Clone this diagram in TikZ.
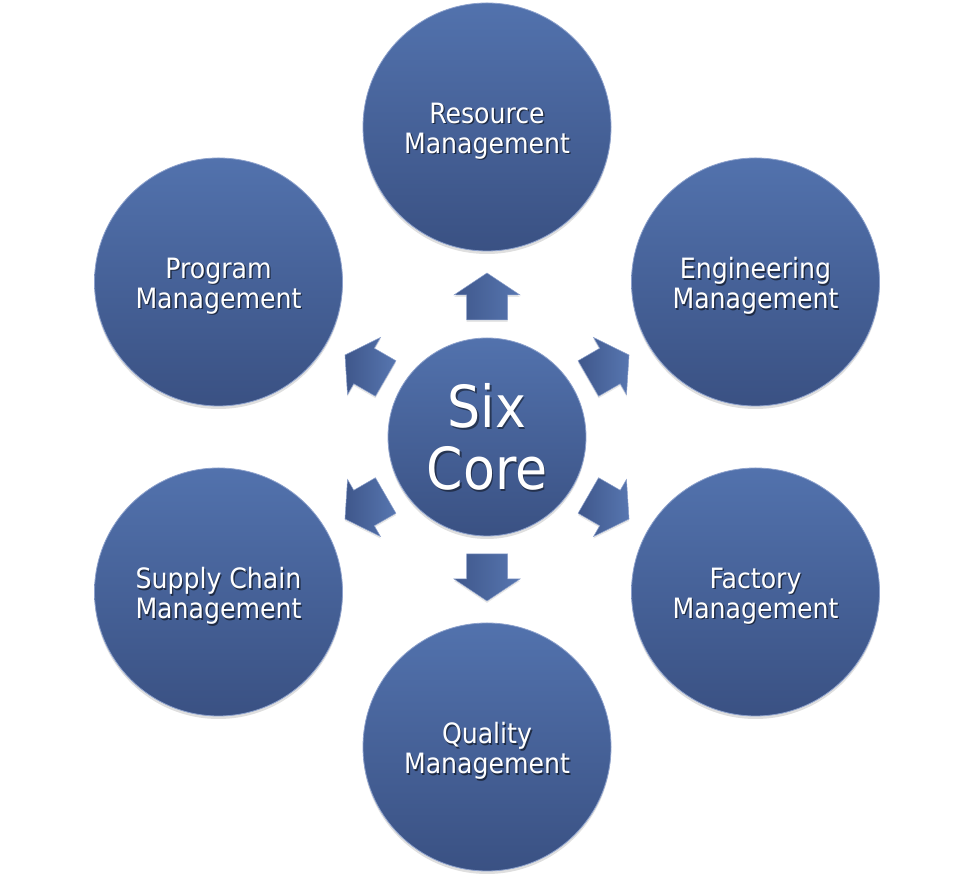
\documentclass[tikz,border=0pt]{standalone}
\usepackage{fontspec}
\setmainfont{DejaVu Sans Condensed}
\usetikzlibrary{shadows}
\definecolor{ctop}{HTML}{5272AD}
\definecolor{cbot}{HTML}{3A5183}
\definecolor{crim}{HTML}{8DA1CC}
\definecolor{atop}{HTML}{5776B0}
\definecolor{abot}{HTML}{3F578B}
\tikzset{
  bubble/.style={circle, inner sep=0pt, top color=ctop, bottom color=cbot,
    draw=crim, line width=0.8pt,
    drop shadow={opacity=0.25, shadow xshift=0pt, shadow yshift=-3pt}},
  outer/.style={bubble, minimum size=248pt},
  core/.style={bubble, minimum size=198pt},
  lbl/.style={align=center, text=white, yshift=-4pt, font=\fontsize{28}{30}\selectfont},
  lblsh/.style={lbl, text=black, opacity=0.55},
  big/.style={align=center, text=white, font=\fontsize{58}{62}\selectfont},
  bigsh/.style={big, text=black, opacity=0.45},
  blockarrow/.style={left color=abot, right color=atop, draw=crim, line width=0.5pt,
    drop shadow={opacity=0.2, shadow xshift=0pt, shadow yshift=-2pt}}
}
\newcommand{\shadowlabel}[4]{%
  \node[#1sh] (#2sh) at ([shift={(1.4pt,-1.4pt)}]#3) {#4};
  \node[#1] (#2) at (#3) {#4};}
\begin{document}
\begin{tikzpicture}[x=1pt,y=1pt]
\useasboundingbox (0,0) rectangle (974,882);
% arrows
\foreach \ang/\nm in {90/au,30/aur,-30/alr,-90/ad,-150/all,150/aul}{
  \begin{scope}[shift={(487,445)}, rotate=\ang]
    \path[blockarrow] (117,-20.5) -- (142,-20.5) -- (142,-33) -- (164,0)
      -- (142,33) -- (142,20.5) -- (117,20.5) -- cycle;
    \coordinate (\nm) at (140,0);
  \end{scope}
}
% circles
\node[core] (core) at (487,445) {};
\node[outer] (res) at (487,755) {};
\node[outer] (eng) at (755.5,600) {};
\node[outer] (fac) at (755.5,290) {};
\node[outer] (qua) at (487,135) {};
\node[outer] (sup) at (218.5,290) {};
\node[outer] (pro) at (218.5,600) {};
% labels
\shadowlabel{big}{tcore}{core}{Six\\Core}
\shadowlabel{lbl}{tres}{res}{Resource\\Management}
\shadowlabel{lbl}{teng}{eng}{Engineering\\Management}
\shadowlabel{lbl}{tfac}{fac}{Factory\\Management}
\shadowlabel{lbl}{tqua}{qua}{Quality\\Management}
\shadowlabel{lbl}{tsup}{sup}{Supply Chain\\Management}
\shadowlabel{lbl}{tpro}{pro}{Program\\Management}
\end{tikzpicture}
\end{document}
